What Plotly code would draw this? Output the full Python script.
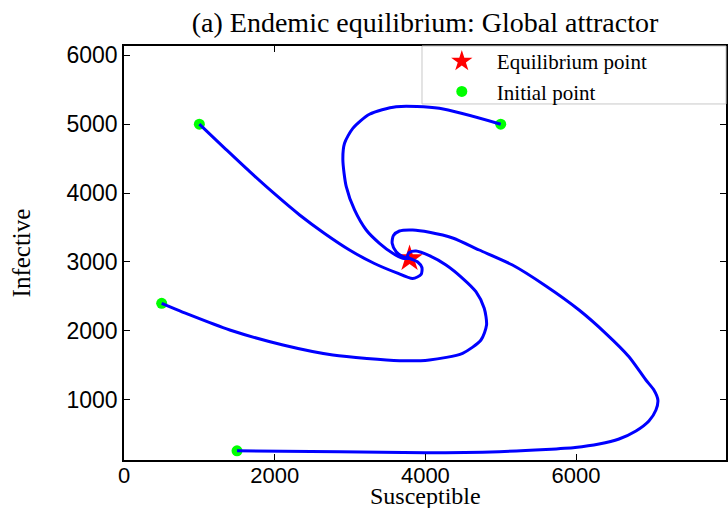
import plotly.graph_objects as go

# Equilibrium point
eq_S = [3790]
eq_I = [3050]

# Initial points
init_S = [1000, 5000, 500, 1500]
init_I = [5000, 5000, 2400, 260]

# Trajectory from (1000, 5000)
traj1_S = [1000, 1338, 1669, 2000, 2331, 2662, 2993, 3324, 3612, 3832, 3943, 3954, 3898, 3828, 3790]
traj1_I = [5000, 4650, 4311, 3987, 3682, 3414, 3174, 2978, 2845, 2760, 2819, 2920, 3000, 3036, 3050]

# Trajectory from (5000, 5000)
traj2_S = [5000, 4185, 3612, 3258, 3037, 2927, 2905, 2950, 3060, 3215, 3391, 3567, 3699, 3790]
traj2_I = [5000, 5231, 5254, 5144, 4940, 4723, 4480, 4093, 3755, 3464, 3271, 3126, 3054, 3050]

# Trajectory from (500, 2400)
traj3_S = [500, 874, 1404, 2110, 2772, 3656, 4053, 4494, 4738, 4812, 4781, 4671, 4494, 4274, 4053, 3877, 3788, 3762, 3790]
traj3_I = [2400, 2231, 2013, 1795, 1650, 1568, 1578, 1675, 1868, 2086, 2328, 2569, 2763, 2956, 3091, 3160, 3138, 3087, 3050]

# Trajectory from (1500, 260)
traj4_S = [1500, 2861, 4000, 4980, 5599, 5987, 6305, 6570, 6795, 6967, 7060, 7086, 7033, 6927, 6702, 6393,
           6040, 5599, 5156, 4715, 4362, 4053, 3832, 3656, 3576, 3559, 3612, 3699, 3790]
traj4_I = [260, 247, 232, 247, 279, 308, 358, 431, 547, 692, 852, 997, 1142, 1287, 1625, 1965,
           2303, 2652, 2956, 3174, 3348, 3431, 3464, 3450, 3385, 3271, 3149, 3077, 3050]

x_tickvals = [0, 2000, 4000, 6000]
y_tickvals = [1000, 2000, 3000, 4000, 5000, 6000]

SERIF = "Liberation Serif, Times New Roman, serif"
SANS = "Liberation Sans, Arial, sans-serif"

fig = go.Figure()

fig.add_trace(go.Scatter(
    x=eq_S, y=eq_I, mode="markers", name="Equilibrium point",
    marker=dict(symbol="star", size=20, color="#ff0000", line=dict(width=0)),
))
fig.add_trace(go.Scatter(
    x=init_S, y=init_I, mode="markers", name="Initial point",
    marker=dict(symbol="circle", size=11, color="#00ff00", line=dict(width=0)),
))
for xs, ys in [(traj1_S, traj1_I), (traj2_S, traj2_I), (traj3_S, traj3_I), (traj4_S, traj4_I)]:
    fig.add_trace(go.Scatter(
        x=xs, y=ys, mode="lines", showlegend=False, hoverinfo="skip",
        line=dict(color="#0000ff", width=3, shape="spline", smoothing=0.7),
    ))

# legend frame
fig.add_shape(type="rect", xref="paper", yref="paper", x0=0.495, x1=1.0, y0=0.86, y1=1.0,
              line=dict(color="#c8c8c8", width=1), fillcolor="white", layer="above")

# x-axis title placed as annotation
fig.add_annotation(text="Susceptible", xref="paper", yref="paper", x=0.5, y=-0.087,
                   xanchor="center", yanchor="middle", showarrow=False,
                   font=dict(family=SERIF, size=24, color="black"))

fig.update_layout(
    width=728, height=508,
    margin=dict(l=124, r=2, t=46, b=48, pad=0),
    paper_bgcolor="white", plot_bgcolor="white",
    title=dict(text="(a) Endemic equilibrium: Global attractor",
               font=dict(family=SERIF, size=28, color="black"),
               x=0.5, xref="paper", xanchor="center", y=0.957, yref="container", yanchor="middle"),
    showlegend=True,
    legend=dict(x=0.503, y=1.012, xanchor="left", yanchor="top", bgcolor="rgba(0,0,0,0)",
                borderwidth=0, itemwidth=60,
                font=dict(family=SERIF, size=21, color="black")),
    xaxis=dict(range=[0, 7990], tickvals=x_tickvals, ticks="inside", ticklen=6, tickcolor="black",
               showline=True, linecolor="black", linewidth=1.5, mirror="ticks", showgrid=False,
               zeroline=False, tickfont=dict(family=SANS, size=22, color="black"),
               ticklabelstandoff=-5, automargin=False),
    yaxis=dict(range=[126, 6135], tickvals=y_tickvals, ticks="inside", ticklen=6, tickcolor="black",
               showline=True, linecolor="black", linewidth=1.5, mirror="ticks", showgrid=False,
               zeroline=False, tickfont=dict(family=SANS, size=23, color="black"),
               title=dict(text="Infective", font=dict(family=SERIF, size=25, color="black"), standoff=29),
               automargin=False),
)

fig.write_html("out.html", post_script="document.body.style.margin='0px';",
               config={"displayModeBar": False})
